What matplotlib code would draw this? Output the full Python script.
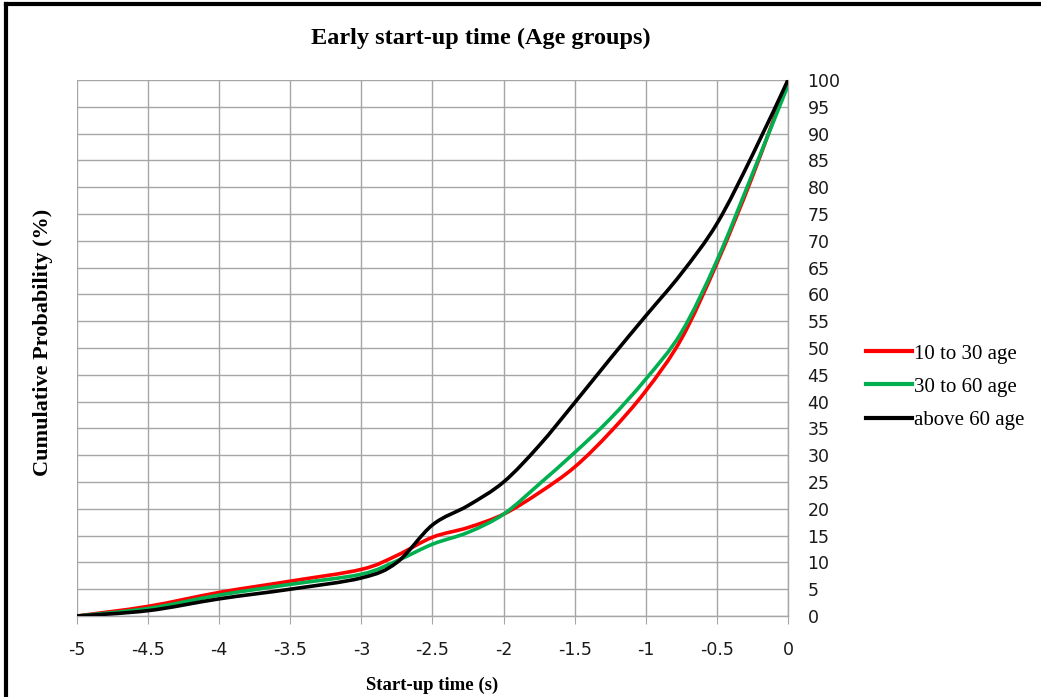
import matplotlib as mpl
import matplotlib.pyplot as plt
from matplotlib.lines import Line2D
from matplotlib.path import Path
from matplotlib.patches import PathPatch

mpl.use('Agg')

# start-up time (s)
times = [-5, -4.5, -4, -3.5, -3, -2.75, -2.5, -2.25, -2, -1.75, -1.5, -1.25, -1, -0.75, -0.5, -0.25, 0]

# cumulative probability (%)
age_10_30 = [0, 1.8, 4.4, 6.5, 8.7, 11.3, 14.7, 16.5, 19.0, 23.0, 27.8, 34.3, 42.0, 51.7, 65.8, 82.0, 100]
age_30_60 = [0, 1.4, 3.9, 5.9, 7.8, 10.3, 13.4, 15.6, 19.0, 24.6, 30.5, 36.8, 44.2, 52.9, 66.3, 82.5, 99]
age_60_up = [0, 1.0, 3.2, 5.0, 7.1, 10.0, 17.0, 20.6, 25.0, 31.8, 39.8, 48.0, 56.0, 63.9, 73.2, 86.0, 100]

labels = ['10 to 30 age', '30 to 60 age', 'above 60 age']
colors = ['#ff0000', '#00b050', '#000000']

x_ticks = [-5, -4.5, -4, -3.5, -3, -2.5, -2, -1.5, -1, -0.5, 0]
x_tick_labels = ['-5', '-4.5', '-4', '-3.5', '-3', '-2.5', '-2', '-1.5', '-1', '-0.5', '0']
y_ticks = list(range(0, 101, 5))


def smooth_path(xs, ys):
    # excel style smoothed line: cubic bezier through every point
    verts = [(xs[0], ys[0])]
    codes = [Path.MOVETO]
    n = len(xs)
    for i in range(n - 1):
        x0, y0 = (xs[i - 1], ys[i - 1]) if i > 0 else (xs[i], ys[i])
        x1, y1 = xs[i], ys[i]
        x2, y2 = xs[i + 1], ys[i + 1]
        x3, y3 = (xs[i + 2], ys[i + 2]) if i + 2 < n else (xs[i + 1], ys[i + 1])
        c1 = (x1 + (x2 - x0) / 6, y1 + (y2 - y0) / 6)
        c2 = (x2 - (x3 - x1) / 6, y2 - (y3 - y1) / 6)
        verts += [c1, c2, (x2, y2)]
        codes += [Path.CURVE4] * 3
    return Path(verts, codes)


fig = plt.figure(figsize=(10.41, 6.97), dpi=100)
ax = fig.add_axes([77 / 1041, 1 - 616 / 697, (788 - 77) / 1041, (616 - 80) / 697])

grid_color = '#a6a6a6'
for series, color in zip([age_10_30, age_30_60, age_60_up], colors):
    patch = PathPatch(smooth_path(times, series), facecolor='none', edgecolor=color,
                      linewidth=2.6, zorder=3, capstyle='round', joinstyle='round')
    ax.add_patch(patch)

ax.set_xlim(-5, 0)
ax.set_ylim(0, 100)
ax.set_xticks(x_ticks)
ax.set_xticklabels(x_tick_labels)
ax.set_yticks(y_ticks)
ax.yaxis.tick_right()
ax.grid(True, color=grid_color, linewidth=1.0)
ax.set_axisbelow(True)
for side in ['top', 'left']:
    ax.spines[side].set_visible(False)
for side in ['bottom', 'right']:
    ax.spines[side].set_color(grid_color)
    ax.spines[side].set_linewidth(1.0)
ax.tick_params(axis='x', length=6, color=grid_color, labelsize=12.5, pad=12, labelcolor='#1a1a1a')
ax.tick_params(axis='y', length=0, labelsize=12.5, pad=14, labelcolor='#1a1a1a')
for lbl in ax.get_yticklabels():
    lbl.set_horizontalalignment('left')

fig.text(481 / 1041, 1 - 38 / 697, 'Early start-up time (Age groups)', ha='center', va='center',
         family='Liberation Serif', weight='bold', fontsize=17.5)
fig.text(432 / 1041, 1 - 685 / 697, 'Start-up time (s)', ha='center', va='center',
         family='Liberation Serif', weight='bold', fontsize=13.5)
fig.text(43 / 1041, 1 - 342 / 697, 'Cumulative Probability (%)', ha='center', va='center',
         rotation=90, family='Liberation Serif', weight='bold', fontsize=16)

handles = [Line2D([], [], color=c, linewidth=3) for c in colors]
fig.legend(handles, labels, loc='center left', bbox_to_anchor=(847 / 1041, 1 - 387 / 697),
           frameon=False, handlelength=2.2, handletextpad=0.1, labelspacing=0.65,
           prop={'family': 'Liberation Serif', 'size': 15})

# outer frame (top and left edges)
fig.add_artist(Line2D([6 / 1041, 1], [1 - 4 / 697, 1 - 4 / 697], transform=fig.transFigure,
                      color='black', linewidth=3))
fig.add_artist(Line2D([6 / 1041, 6 / 1041], [0, 1 - 4 / 697], transform=fig.transFigure,
                      color='black', linewidth=3))

fig.savefig('out.png', dpi=100)
